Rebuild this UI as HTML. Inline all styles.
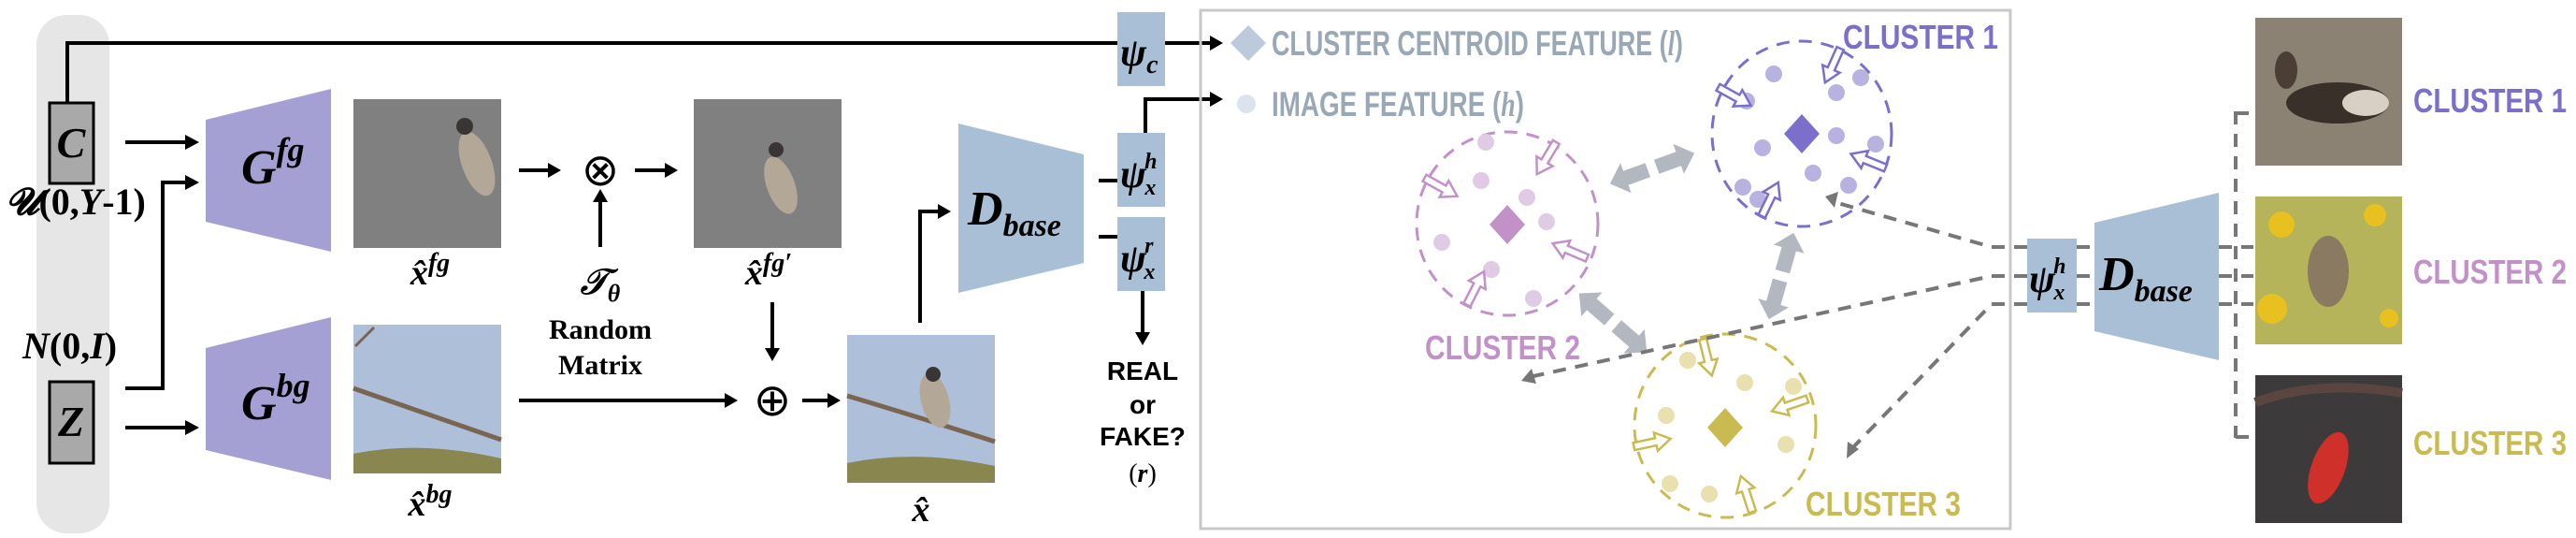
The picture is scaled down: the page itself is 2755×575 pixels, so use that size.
<!DOCTYPE html>
<html><head><meta charset="utf-8"><style>
html,body{margin:0;padding:0;background:#fff;}
svg{display:block;}
.m{font-family:"Liberation Serif",serif;font-weight:bold;font-style:italic;}
.n{font-family:"Liberation Sans Narrow","Liberation Sans",sans-serif;font-weight:bold;}
</style></head><body>
<svg width="2755" height="575" viewBox="0 0 2755 575" xmlns="http://www.w3.org/2000/svg">
<defs>
<marker id="ah" markerWidth="10" markerHeight="10" refX="8" refY="5" orient="auto" markerUnits="userSpaceOnUse"><path d="M0,0 L0,0" /></marker>
<g id="ha"><path d="M-20,-4 L4,-4 L4,-10 L20,0 L4,10 L4,4 L-20,4 Z" fill="#fff" stroke-width="2.5"/></g>
<g id="ga"><polygon points="-48,0 -30,-17 -30,-8 -5,-8 -5,8 -30,8 -30,17" fill="#b3b7c0"/><polygon points="48,0 30,-17 30,-8 5,-8 5,8 30,8 30,17" fill="#b3b7c0"/></g>
</defs>
<!-- left gray column -->
<rect x="39" y="16" width="78" height="554" rx="32" fill="#e6e6e6"/>
<rect x="53" y="110" width="47" height="86" fill="#a9a9a9" stroke="#000" stroke-width="3"/>
<text x="76" y="168" class="m" font-size="46" text-anchor="middle">C</text>
<rect x="53" y="408" width="47" height="87" fill="#a9a9a9" stroke="#000" stroke-width="3"/>
<text x="76" y="466" class="m" font-size="46" text-anchor="middle">Z</text>
<text x="6" y="229" font-family="Liberation Serif,serif" font-size="40" font-weight="bold"><tspan font-style="italic">𝓤</tspan>(0,<tspan font-style="italic">Y</tspan>-1)</text>
<text x="24" y="383" font-family="Liberation Serif,serif" font-size="40" font-weight="bold"><tspan font-style="italic">N</tspan>(0,<tspan font-style="italic">I</tspan>)</text>

<g stroke="#000" stroke-width="4" fill="none">
<polyline points="72,110 72,46 1195,46"/>
<line x1="1246" y1="46" x2="1296" y2="46"/>
<line x1="134" y1="152" x2="200" y2="152"/>
<polyline points="134,415 174,415 174,195 200,195"/>
<line x1="134" y1="457" x2="200" y2="457"/>
<line x1="555" y1="182" x2="590" y2="182"/>
<line x1="679" y1="182" x2="714" y2="182"/>
<line x1="642" y1="264" x2="642" y2="214"/>
<line x1="555" y1="428" x2="778" y2="428"/>
<line x1="826" y1="323" x2="826" y2="375"/>
<line x1="858" y1="428" x2="888" y2="428"/>
<polyline points="984,345 984,226 1005,226"/>
<line x1="1175" y1="193" x2="1195" y2="193"/>
<line x1="1175" y1="253" x2="1195" y2="253"/>
<polyline points="1225,142 1225,106 1296,106"/>
<line x1="1222" y1="311" x2="1222" y2="358"/>
</g>
<g fill="#000">
<polygon points="1308,46 1294,38 1294,54"/>
<polygon points="1308,106 1294,98 1294,114"/>
<polygon points="213,152 198,144 198,160"/>
<polygon points="213,195 198,187 198,203"/>
<polygon points="213,457 198,449 198,465"/>
<polygon points="600,182 586,174 586,190"/>
<polygon points="725,182 711,174 711,190"/>
<polygon points="642,202 634,216 650,216"/>
<polygon points="789,428 775,420 775,436"/>
<polygon points="826,386 818,372 834,372"/>
<polygon points="899,428 885,420 885,436"/>
<polygon points="1017,226 1003,218 1003,234"/>
<polygon points="1222,369 1214,355 1230,355"/>
</g>
<text x="642" y="198" font-family="DejaVu Sans,sans-serif" font-size="48" text-anchor="middle">⊗</text>
<text x="826" y="444" font-family="DejaVu Sans,sans-serif" font-size="48" text-anchor="middle">⊕</text>

<!-- generators -->
<polygon points="220,128 354,95 354,269 220,237" fill="#a5a0d4"/>
<text x="258" y="196" class="m" font-size="52">G<tspan font-size="36" dy="-24">fg</tspan></text>
<polygon points="220,372 354,339 354,513 220,481" fill="#a5a0d4"/>
<text x="258" y="448" class="m" font-size="52">G<tspan font-size="36" dy="-24">bg</tspan></text>

<!-- images -->
<rect x="378" y="106" width="158" height="159" fill="#808080"/>
<ellipse cx="510" cy="175" rx="16" ry="36" fill="#b3a898" transform="rotate(-20 510 175)"/>
<circle cx="497" cy="135" r="9" fill="#3a3535"/>
<rect x="378" y="347" width="158" height="159" fill="#aebfd9"/>
<path d="M378,415 Q450,440 536,470" stroke="#7a6550" stroke-width="5" fill="none"/>
<path d="M378,485 Q450,470 536,490 L536,506 L378,506Z" fill="#8a8650"/>
<path d="M380,370 L400,350" stroke="#7a6550" stroke-width="3"/>
<rect x="742" y="106" width="158" height="159" fill="#808080"/>
<ellipse cx="835" cy="198" rx="15" ry="32" fill="#b3a898" transform="rotate(-20 835 198)"/>
<circle cx="830" cy="160" r="8" fill="#3a3535"/>
<rect x="906" y="358" width="158" height="158" fill="#aebfd9"/>
<path d="M906,423 Q980,445 1064,472" stroke="#7a6550" stroke-width="5" fill="none"/>
<path d="M906,495 Q980,480 1064,498 L1064,516 L906,516Z" fill="#8a8650"/>
<ellipse cx="1000" cy="428" rx="15" ry="30" fill="#b3a898" transform="rotate(-15 1000 428)"/>
<circle cx="998" cy="400" r="8" fill="#3a3535"/>

<text x="460" y="304" class="m" font-size="38" text-anchor="middle" font-weight="normal">x̂<tspan font-size="28" dy="-14">fg</tspan></text>
<text x="460" y="551" class="m" font-size="38" text-anchor="middle" font-weight="normal">x̂<tspan font-size="28" dy="-14">bg</tspan></text>
<text x="822" y="304" class="m" font-size="38" text-anchor="middle" font-weight="normal">x̂<tspan font-size="28" dy="-14">fg′</tspan></text>
<text x="985" y="557" class="m" font-size="38" text-anchor="middle" font-weight="normal">x̂</text>
<text x="642" y="314" class="m" font-size="38" text-anchor="middle" font-weight="normal">𝒯<tspan font-size="26" dy="8">θ</tspan></text>
<text x="642" y="362" font-family="Liberation Serif,serif" font-weight="bold" font-size="30" text-anchor="middle">Random</text>
<text x="642" y="400" font-family="Liberation Serif,serif" font-weight="bold" font-size="30" text-anchor="middle">Matrix</text>

<!-- D base -->
<polygon points="1025,132 1159,165 1159,281 1025,313" fill="#a9bfd6"/>
<text x="1035" y="240" class="m" font-size="52">D<tspan font-size="34" dy="12">base</tspan></text>
<rect x="1195" y="13" width="51" height="79" fill="#a9bfd6"/>
<text x="1198" y="70" class="m" font-size="42">ψ<tspan font-size="28" dy="8">c</tspan></text>
<rect x="1195" y="142" width="51" height="79" fill="#a9bfd6"/>
<text x="1198" y="200" class="m" font-size="42">ψ<tspan font-size="24" dx="-2" dy="-20">h</tspan><tspan font-size="24" dx="-13" dy="28">x</tspan></text>
<rect x="1195" y="232" width="51" height="79" fill="#a9bfd6"/>
<text x="1198" y="290" class="m" font-size="42">ψ<tspan font-size="24" dx="-2" dy="-20">r</tspan><tspan font-size="24" dx="-10" dy="28">x</tspan></text>
<g class="n" font-size="28" text-anchor="middle">
<text x="1222" y="406">REAL</text><text x="1222" y="442">or</text><text x="1222" y="476">FAKE?</text>
</g>
<text x="1222" y="515" font-family="Liberation Serif,serif" font-size="28" text-anchor="middle">(<tspan font-style="italic" font-weight="bold">r</tspan>)</text>

<!-- big box -->
<rect x="1284" y="11" width="866" height="554" fill="none" stroke="#c8c8c8" stroke-width="3"/>
<polygon points="1335,27 1354,46 1335,65 1316,46" fill="#bccadb"/>
<circle cx="1333" cy="111" r="10" fill="#dce3ee"/>
<text x="1360" y="59" class="n" font-size="37" fill="#9aa8b5" textLength="440" lengthAdjust="spacingAndGlyphs">CLUSTER CENTROID FEATURE (<tspan font-family="Liberation Serif,serif" font-style="italic">l</tspan>)</text>
<text x="1360" y="124" class="n" font-size="37" fill="#9aa8b5" textLength="270" lengthAdjust="spacingAndGlyphs">IMAGE FEATURE (<tspan font-family="Liberation Serif,serif" font-style="italic">h</tspan>)</text>

<!-- clusters -->
<g fill="none" stroke-width="3" stroke-dasharray="14,10">
<ellipse cx="1927" cy="143" rx="96" ry="99" stroke="#7b6fcc"/>
<ellipse cx="1612" cy="239" rx="97" ry="98" stroke="#c191c8"/>
<ellipse cx="1845" cy="455" rx="97" ry="98" stroke="#c9bb52"/>
</g>
<g fill="#b8b2e0">
<circle cx="1897" cy="79" r="9"/><circle cx="1964" cy="99" r="9"/><circle cx="1990" cy="83" r="9"/><circle cx="1868" cy="108" r="9"/><circle cx="1885" cy="158" r="9"/><circle cx="1964" cy="145" r="9"/><circle cx="2006" cy="154" r="9"/><circle cx="1939" cy="185" r="9"/><circle cx="1977" cy="198" r="9"/><circle cx="1864" cy="200" r="9"/><circle cx="1880" cy="213" r="9"/>
</g>
<g fill="#e0cbe4">
<circle cx="1589" cy="152" r="9"/><circle cx="1584" cy="193" r="9"/><circle cx="1633" cy="211" r="9"/><circle cx="1654" cy="237" r="9"/><circle cx="1542" cy="259" r="9"/><circle cx="1595" cy="288" r="9"/><circle cx="1640" cy="319" r="9"/>
</g>
<g fill="#e8e0ae">
<circle cx="1805" cy="385" r="9"/><circle cx="1866" cy="409" r="9"/><circle cx="1918" cy="413" r="9"/><circle cx="1782" cy="444" r="9"/><circle cx="1910" cy="475" r="9"/><circle cx="1786" cy="517" r="9"/><circle cx="1828" cy="528" r="9"/>
</g>
<polygon points="1927,122 1946,143 1927,164 1908,143" fill="#7b6fcc"/>
<polygon points="1612,219 1631,240 1612,261 1593,240" fill="#c191c8"/>
<polygon points="1845,436 1864,457 1845,478 1826,457" fill="#c9bb52"/>
<g stroke="#7b6fcc">
<use href="#ha" transform="translate(1855,103) rotate(29)"/>
<use href="#ha" transform="translate(1960,70) rotate(114)"/>
<use href="#ha" transform="translate(1998,172) rotate(202)"/>
<use href="#ha" transform="translate(1893,213) rotate(-64)"/>
</g>
<g stroke="#c191c8">
<use href="#ha" transform="translate(1541,200) rotate(29)"/>
<use href="#ha" transform="translate(1654,169) rotate(121)"/>
<use href="#ha" transform="translate(1679,268) rotate(203)"/>
<use href="#ha" transform="translate(1578,308) rotate(-63)"/>
</g>
<g stroke="#c9bb52">
<use href="#ha" transform="translate(1826,382) rotate(76)"/>
<use href="#ha" transform="translate(1914,433) rotate(161)"/>
<use href="#ha" transform="translate(1767,473) rotate(-12)"/>
<use href="#ha" transform="translate(1868,528) rotate(-108)"/>
</g>
<use href="#ga" transform="translate(1767,180) rotate(-20)"/>
<use href="#ga" transform="translate(1905,295) rotate(106)"/>
<use href="#ga" transform="translate(1725,345) rotate(41)"/>
<text x="1971" y="52" class="n" font-size="36" fill="#7b6fcc" textLength="166" lengthAdjust="spacingAndGlyphs">CLUSTER 1</text>
<text x="1524" y="384" class="n" font-size="36" fill="#c191c8" textLength="166" lengthAdjust="spacingAndGlyphs">CLUSTER 2</text>
<text x="1931" y="551" class="n" font-size="36" fill="#c9bb52" textLength="166" lengthAdjust="spacingAndGlyphs">CLUSTER 3</text>

<!-- dashed arrows -->
<g stroke="#777" stroke-width="4" stroke-dasharray="14,10" fill="none">
<polyline points="2168,264 2130,264 1962,216"/>
<polyline points="2168,295 2130,295 1640,402"/>
<polyline points="2168,325 2130,325 1982,478"/>
<line x1="2221" y1="264" x2="2240" y2="264"/><line x1="2221" y1="295" x2="2240" y2="295"/><line x1="2221" y1="325" x2="2240" y2="325"/>
<line x1="2373" y1="264" x2="2410" y2="264"/><line x1="2373" y1="295" x2="2410" y2="295"/><line x1="2373" y1="325" x2="2410" y2="325"/>
<line x1="2391" y1="119" x2="2391" y2="468"/>
<line x1="2391" y1="121" x2="2410" y2="121"/><line x1="2391" y1="467" x2="2410" y2="467"/>
</g>
<g fill="#777">
<polygon points="1952,210 1966,205 1962,222"/>
<polygon points="1627,407 1638,394 1643,410"/>
<polygon points="1975,490 1976,472 1988,480"/>
</g>
<rect x="2168" y="255" width="53" height="79" fill="#a9bfd6"/>
<text x="2170" y="312" class="m" font-size="42">ψ<tspan font-size="24" dx="-2" dy="-20">h</tspan><tspan font-size="24" dx="-13" dy="28">x</tspan></text>
<polygon points="2240,238 2373,206 2373,385 2240,354" fill="#a9bfd6"/>
<text x="2245" y="310" class="m" font-size="52">D<tspan font-size="34" dy="12">base</tspan></text>

<!-- right images -->
<rect x="2412" y="19" width="157" height="158" fill="#8c8273"/>
<ellipse cx="2500" cy="110" rx="55" ry="22" fill="#3a302a"/>
<ellipse cx="2445" cy="75" rx="12" ry="20" fill="#4a3e35"/>
<ellipse cx="2530" cy="110" rx="25" ry="14" fill="#d8d0c4"/>
<rect x="2412" y="210" width="157" height="158" fill="#b5b45a"/>
<circle cx="2440" cy="240" r="14" fill="#e8c020"/><circle cx="2540" cy="230" r="12" fill="#e8c020"/><circle cx="2430" cy="330" r="16" fill="#e8c020"/><circle cx="2555" cy="340" r="10" fill="#e8c020"/>
<ellipse cx="2490" cy="290" rx="22" ry="38" fill="#8a7a62"/>
<rect x="2412" y="401" width="157" height="158" fill="#3d3a3c"/>
<ellipse cx="2490" cy="500" rx="18" ry="40" fill="#d0302a" transform="rotate(20 2490 500)"/>
<path d="M2412,430 Q2480,405 2569,420" stroke="#5a4540" stroke-width="10" fill="none"/>
<text x="2581" y="120" class="n" font-size="36" fill="#7b6fcc" textLength="164" lengthAdjust="spacingAndGlyphs">CLUSTER 1</text>
<text x="2581" y="303" class="n" font-size="36" fill="#c191c8" textLength="164" lengthAdjust="spacingAndGlyphs">CLUSTER 2</text>
<text x="2581" y="486" class="n" font-size="36" fill="#c9bb52" textLength="164" lengthAdjust="spacingAndGlyphs">CLUSTER 3</text>
</svg>
</body></html>
